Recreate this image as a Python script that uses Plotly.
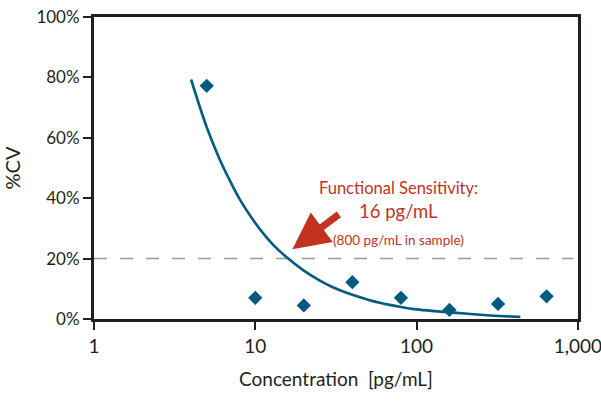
import plotly.graph_objects as go

# Measured data points
conc = [5, 10, 20, 40, 80, 160, 320, 640]
cv = [77.2, 7.0, 4.5, 12.2, 7.0, 3.0, 5.0, 7.5]

# Fitted curve
curve_x = [4, 5, 6, 6.7, 8, 10, 11.5, 13, 16, 20, 25, 30, 40, 50, 60, 80, 100, 130, 160, 200, 250, 300, 350, 400, 440]
curve_y = [79.3, 63.5, 53.0, 47.6, 39.7, 31.8, 27.6, 24.4, 20.0, 16.0, 12.8, 10.6, 8.0, 6.4, 5.3, 4.0, 3.2, 2.6, 2.2, 1.8, 1.4, 1.1, 0.9, 0.8, 0.7]

x_tickvals = [1, 10, 100, 1000]
x_ticktext = ["1", "10", "100", "1,000"]
y_tickvals = [0, 20, 40, 60, 80, 100]
y_ticktext = ["0%", "20%", "40%", "60%", "80%", "100%"]

threshold = 20

FONT = "Lato, Roboto, sans-serif"
DARK = "#231f20"
BLUE = "#005b7f"
RED = "#c1321f"

fig = go.Figure()
fig.add_trace(go.Scatter(x=curve_x, y=curve_y, mode="lines",
                         line=dict(color=BLUE, width=2.6, shape="spline"),
                         hoverinfo="skip", showlegend=False))
fig.add_trace(go.Scatter(x=conc, y=cv, mode="markers",
                         marker=dict(symbol="diamond", size=11, color=BLUE),
                         showlegend=False))

fig.add_shape(type="line", xref="paper", yref="y", x0=0, x1=0.99, y0=threshold, y1=threshold,
              line=dict(color="#9a9a9a", width=1.5, dash="13px,13px"), layer="below")

fig.add_annotation(x=1.23, y=23.1, xref="x", yref="y", text="", showarrow=True,
                   ax=48, ay=-36, arrowcolor=RED, arrowwidth=7, arrowhead=2, arrowsize=1.05)

fig.add_annotation(x=1.888, y=43.4, xref="x", yref="y", text="Functional Sensitivity:",
                   showarrow=False, font=dict(family=FONT, size=16.5, color=RED))
fig.add_annotation(x=1.888, y=35.8, xref="x", yref="y", text="16 pg/mL",
                   showarrow=False, font=dict(family=FONT, size=18.5, color=RED))
fig.add_annotation(x=1.888, y=26.2, xref="x", yref="y", text="(800 pg/mL in sample)",
                   showarrow=False, font=dict(family=FONT, size=13.5, color=RED))

fig.update_layout(
    width=601, height=408,
    margin=dict(l=94, r=23, t=17, b=89),
    paper_bgcolor="white", plot_bgcolor="white",
    font=dict(family=FONT, color=DARK),
    xaxis=dict(type="log", range=[0, 3.001], tickvals=x_tickvals, ticktext=x_ticktext,
               showgrid=False, zeroline=False, showline=True, mirror=True, automargin=False,
               ticklabeloverflow="allow",
               linecolor=DARK, linewidth=3, ticks="outside", ticklen=8, tickwidth=1.5,
               tickcolor=DARK, tickfont=dict(size=19, color=DARK),
               title=dict(text="Concentration  [pg/mL]", font=dict(size=19, color=DARK), standoff=17)),
    yaxis=dict(range=[0, 100], tickvals=y_tickvals, ticktext=y_ticktext,
               showgrid=False, zeroline=False, showline=True, mirror=True, automargin=False,
               linecolor=DARK, linewidth=3, ticks="outside", ticklen=8, tickwidth=1.5,
               tickcolor=DARK, tickfont=dict(size=17, color=DARK),
               title=dict(text="%CV", font=dict(size=20, color=DARK), standoff=14)),
)

fig.write_html("out.html")
